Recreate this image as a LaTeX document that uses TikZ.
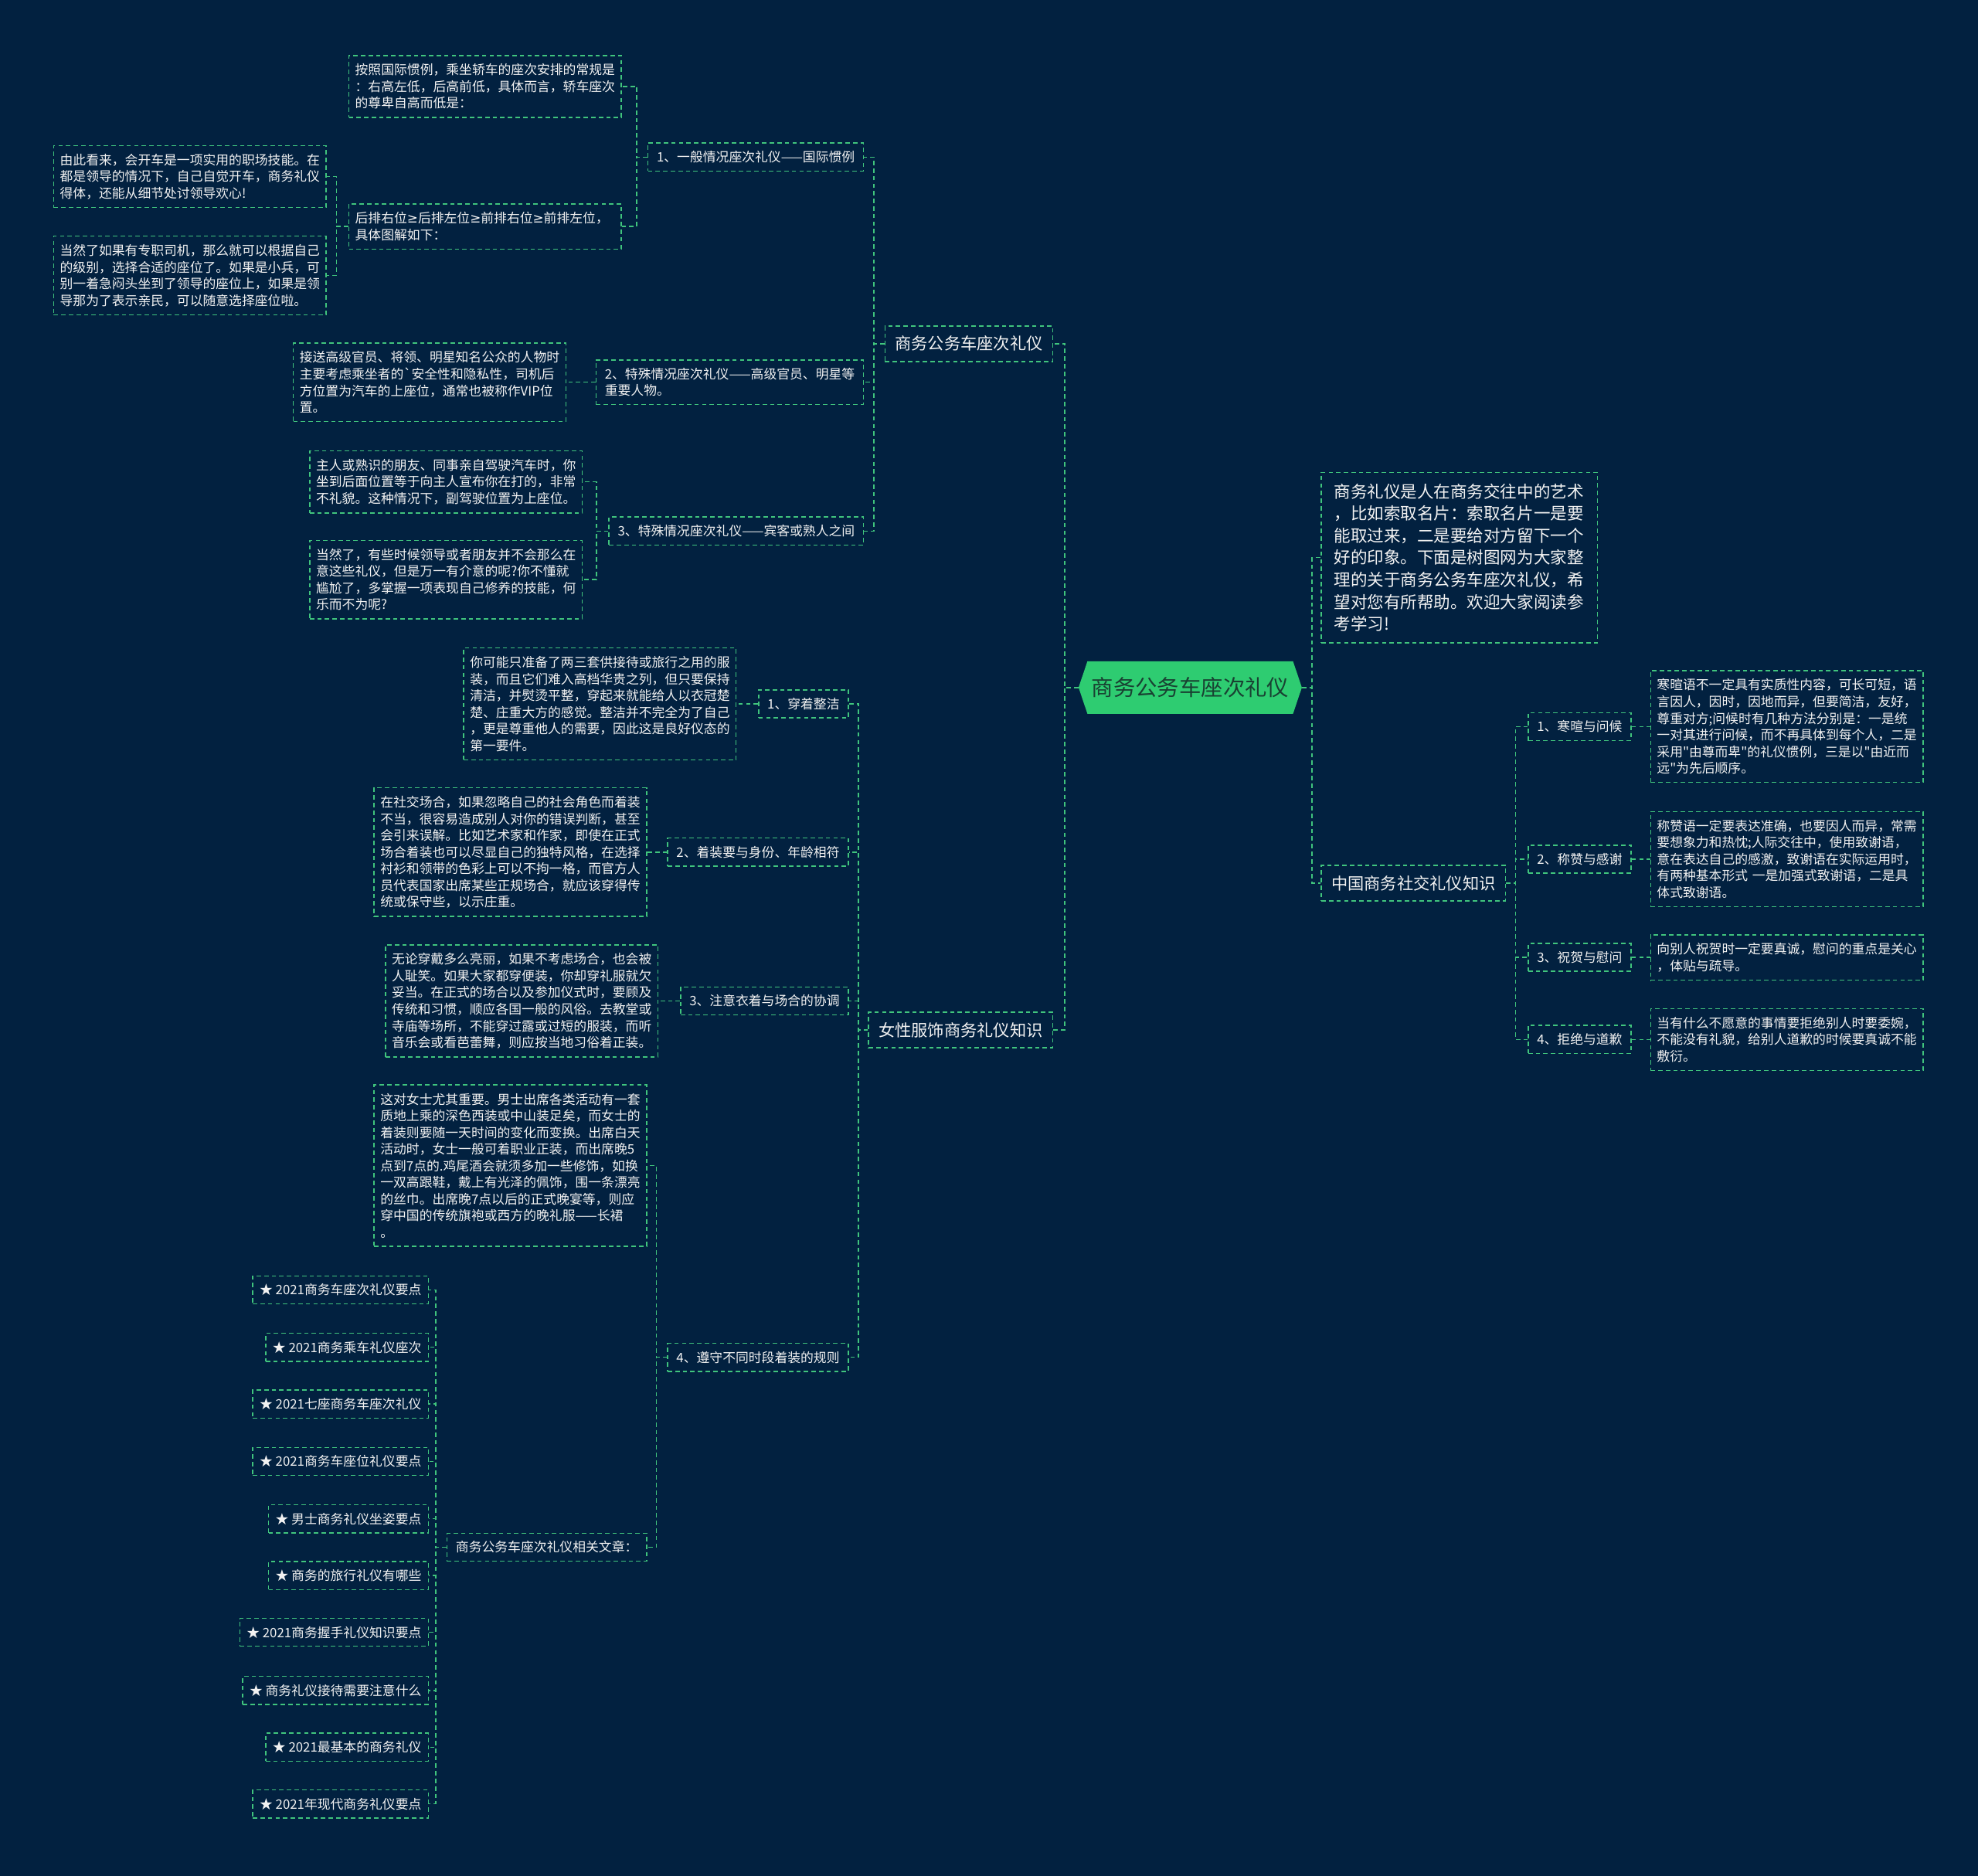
\documentclass[tikz,border=0pt]{standalone}
\usepackage{fontspec}
\setmainfont{Noto Sans CJK SC}
\newfontfamily\dvfont{DejaVu Sans}
\usetikzlibrary{backgrounds,calc}
\definecolor{bgc}{RGB}{2,33,64}
\definecolor{lg}{RGB}{64,196,125}
\definecolor{tw}{RGB}{242,242,242}
\definecolor{rootfill}{RGB}{46,204,113}
\definecolor{roottext}{RGB}{25,65,50}
\newcommand{\dqmark}{\XeTeXglyph\XeTeXcharglyph"22\relax}
\newcommand{\bqmark}{\XeTeXglyph\XeTeXcharglyph"60\relax}
\newcommand{\geqmark}{{\dvfont ≥}}
\tikzset{
  conn/.style={draw=lg, line width=0.9pt, dash pattern=on 3.5pt off 2.5pt},
  dbox/.style={draw=lg, line width=0.9pt, dash pattern=on 3.5pt off 2.5pt, text=tw,
    inner xsep=5pt, inner ysep=6.5pt, font=\fontsize{10.3}{13.2}\selectfont,
    align=left, text width=206pt},
  lab/.style={draw=lg, line width=0.9pt, dash pattern=on 3.5pt off 2.5pt, text=tw,
    inner xsep=7pt, inner ysep=6.3pt, font=\fontsize{10.3}{13.2}\selectfont, align=left},
  starlab/.style={lab, inner xsep=5.5pt},
  big/.style={draw=lg, line width=0.9pt, dash pattern=on 3.5pt off 2.5pt, text=tw,
    inner xsep=8pt, inner ysep=8pt, font=\fontsize{13}{16}\selectfont},
  introbox/.style={draw=lg, line width=0.9pt, dash pattern=on 3.5pt off 2.5pt, text=tw,
    inner xsep=10pt, inner ysep=9pt, font=\fontsize{13.2}{17.5}\selectfont,
    align=left, text width=199pt},
}
\begin{document}
\begin{tikzpicture}[x=1pt,y=-1pt]
\begin{scope}[on background layer]
  \fill[bgc] (0,0) rectangle (1568,1487);
\end{scope}
\useasboundingbox (0,0) rectangle (1568,1487);

% root
\node[text=roottext, font=\fontsize{17.4}{20}\selectfont, inner xsep=10pt, inner ysep=12.5pt] (root) at (943.5,545) {商务公务车座次礼仪};
\begin{scope}[on background layer]
  \fill[rootfill] ($(root.north west)+(7,0)$) -- ($(root.north east)+(-7,0)$) -- (root.east)
    -- ($(root.south east)+(-7,0)$) -- ($(root.south west)+(7,0)$) -- (root.west) -- cycle;
\end{scope}

% right side
\node[introbox, anchor=west] (intro) at (1047,442) {商务礼仪是人在商务交往中的艺术\\，比如索取名片：索取名片一是要\\能取过来，二是要给对方留下一个\\好的印象。下面是树图网为大家整\\理的关于商务公务车座次礼仪，希\\望对您有所帮助。欢迎大家阅读参\\考学习!};
\node[big, anchor=west] (cn) at (1047,700) {中国商务社交礼仪知识};

\node[lab, anchor=west] (r1) at (1211,576) {1、寒暄与问候};
\node[lab, anchor=west] (r2) at (1211,681) {2、称赞与感谢};
\node[lab, anchor=west] (r3) at (1211,759) {3、祝贺与慰问};
\node[lab, anchor=west] (r4) at (1211,824) {4、拒绝与道歉};

\node[dbox, anchor=west] (rd1) at (1308,576) {寒暄语不一定具有实质性内容，可长可短，语\\言因人，因时，因地而异，但要简洁，友好，\\尊重对方;问候时有几种方法分别是：一是统\\一对其进行问候，而不再具体到每个人，二是\\采用\dqmark 由尊而卑\dqmark 的礼仪惯例，三是以\dqmark 由近而\\远\dqmark 为先后顺序。};
\node[dbox, anchor=west] (rd2) at (1308,681) {称赞语一定要表达准确，也要因人而异，常需\\要想象力和热忱;人际交往中，使用致谢语，\\意在表达自己的感激，致谢语在实际运用时，\\有两种基本形式 一是加强式致谢语，二是具\\体式致谢语。};
\node[dbox, anchor=west] (rd3) at (1308,759) {向别人祝贺时一定要真诚，慰问的重点是关心\\，体贴与疏导。};
\node[dbox, anchor=west] (rd4) at (1308,824) {当有什么不愿意的事情要拒绝别人时要委婉，\\不能没有礼貌，给别人道歉的时候要真诚不能\\敷衍。};

% left side level 1
\node[big, anchor=east] (A) at (835,272.5) {商务公务车座次礼仪};
\node[big, anchor=east] (B) at (835,816.5) {女性服饰商务礼仪知识};

% A subtree
\node[lab, anchor=east] (a1) at (685,124.5) {1、一般情况座次礼仪——国际惯例};
\node[lab, anchor=east] (a2) at (685,303) {2、特殊情况座次礼仪——高级官员、明星等\\重要人物。};
\node[lab, anchor=east] (a3) at (685,421) {3、特殊情况座次礼仪——宾客或熟人之间};

\node[dbox, anchor=east] (a1d1) at (493,68.5) {按照国际惯例，乘坐轿车的座次安排的常规是\\：右高左低，后高前低，具体而言，轿车座次\\的尊卑自高而低是：};
\node[dbox, anchor=east] (a1d2) at (493,179.5) {后排右位\geqmark 后排左位\geqmark 前排右位\geqmark 前排左位，\\具体图解如下：};
\node[dbox, anchor=east] (a1d2c1) at (259,140) {由此看来，会开车是一项实用的职场技能。在\\都是领导的情况下，自己自觉开车，商务礼仪\\得体，还能从细节处讨领导欢心!};
\node[dbox, anchor=east] (a1d2c2) at (259,218.5) {当然了如果有专职司机，那么就可以根据自己\\的级别，选择合适的座位了。如果是小兵，可\\别一着急闷头坐到了领导的座位上，如果是领\\导那为了表示亲民，可以随意选择座位啦。};
\node[dbox, anchor=east] (a2d) at (449,303) {接送高级官员、将领、明星知名公众的人物时\\主要考虑乘坐者的\bqmark 安全性和隐私性，司机后\\方位置为汽车的上座位，通常也被称作VIP位\\置。};
\node[dbox, anchor=east] (a3d1) at (462,382) {主人或熟识的朋友、同事亲自驾驶汽车时，你\\坐到后面位置等于向主人宣布你在打的，非常\\不礼貌。这种情况下，副驾驶位置为上座位。};
\node[dbox, anchor=east] (a3d2) at (462,459.5) {当然了，有些时候领导或者朋友并不会那么在\\意这些礼仪，但是万一有介意的呢?你不懂就\\尴尬了，多掌握一项表现自己修养的技能，何\\乐而不为呢?};

% B subtree
\node[lab, anchor=east] (b1) at (673,558) {1、穿着整洁};
\node[lab, anchor=east] (b2) at (673,675.5) {2、着装要与身份、年龄相符};
\node[lab, anchor=east] (b3) at (673,793.5) {3、注意衣着与场合的协调};
\node[lab, anchor=east] (b4) at (673,1076) {4、遵守不同时段着装的规则};

\node[dbox, anchor=east] (b1d) at (584,558) {你可能只准备了两三套供接待或旅行之用的服\\装，而且它们难入高档华贵之列，但只要保持\\清洁，并熨烫平整，穿起来就能给人以衣冠楚\\楚、庄重大方的感觉。整洁并不完全为了自己\\，更是尊重他人的需要，因此这是良好仪态的\\第一要件。};
\node[dbox, anchor=east] (b2d) at (513,675.5) {在社交场合，如果忽略自己的社会角色而着装\\不当，很容易造成别人对你的错误判断，甚至\\会引来误解。比如艺术家和作家，即使在正式\\场合着装也可以尽显自己的独特风格，在选择\\衬衫和领带的色彩上可以不拘一格，而官方人\\员代表国家出席某些正规场合，就应该穿得传\\统或保守些，以示庄重。};
\node[dbox, anchor=east] (b3d) at (522,793.5) {无论穿戴多么亮丽，如果不考虑场合，也会被\\人耻笑。如果大家都穿便装，你却穿礼服就欠\\妥当。在正式的场合以及参加仪式时，要顾及\\传统和习惯，顺应各国一般的风俗。去教堂或\\寺庙等场所，不能穿过露或过短的服装，而听\\音乐会或看芭蕾舞，则应按当地习俗着正装。};
\node[dbox, anchor=east] (b4d1) at (513,924) {这对女士尤其重要。男士出席各类活动有一套\\质地上乘的深色西装或中山装足矣，而女士的\\着装则要随一天时间的变化而变换。出席白天\\活动时，女士一般可着职业正装，而出席晚5\\点到7点的.鸡尾酒会就须多加一些修饰，如换\\一双高跟鞋，戴上有光泽的佩饰，围一条漂亮\\的丝巾。出席晚7点以后的正式晚宴等，则应\\穿中国的传统旗袍或西方的晚礼服——长裙\\。};
\node[lab, anchor=east] (b4d2) at (513,1226.5) {商务公务车座次礼仪相关文章：};

\node[starlab, anchor=east] (s1) at (340,1022.5) {★ 2021商务车座次礼仪要点};
\node[starlab, anchor=east] (s2) at (340,1068) {★ 2021商务乘车礼仪座次};
\node[starlab, anchor=east] (s3) at (340,1113) {★ 2021七座商务车座次礼仪};
\node[starlab, anchor=east] (s4) at (340,1158.5) {★ 2021商务车座位礼仪要点};
\node[starlab, anchor=east] (s5) at (340,1204) {★ 男士商务礼仪坐姿要点};
\node[starlab, anchor=east] (s6) at (340,1249) {★ 商务的旅行礼仪有哪些};
\node[starlab, anchor=east] (s7) at (340,1294) {★ 2021商务握手礼仪知识要点};
\node[starlab, anchor=east] (s8) at (340,1340) {★ 商务礼仪接待需要注意什么};
\node[starlab, anchor=east] (s9) at (340,1385) {★ 2021最基本的商务礼仪};
\node[starlab, anchor=east] (s10) at (340,1430) {★ 2021年现代商务礼仪要点};

% connectors right
\draw[conn] (root.east) -- ++(8,0) |- (intro.west);
\draw[conn] (root.east) -- ++(8,0) |- (cn.west);
\foreach \i in {1,2,3,4}{
  \draw[conn] (cn.east) -- ++(7.5,0) |- (r\i.west);
  \draw[conn] (r\i.east) -- (rd\i.west);
}
% connectors left
\draw[conn] (root.west) -- ++(-11,0) |- (A.east);
\draw[conn] (root.west) -- ++(-11,0) |- (B.east);
\foreach \c in {a1,a2,a3}{\draw[conn] (A.west) -- ++(-8.5,0) |- (\c.east);}
\draw[conn] (a1.west) -- ++(-8.5,0) |- (a1d1.east);
\draw[conn] (a1.west) -- ++(-8.5,0) |- (a1d2.east);
\draw[conn] (a1d2.west) -- ++(-9.5,0) |- (a1d2c1.east);
\draw[conn] (a1d2.west) -- ++(-9.5,0) |- (a1d2c2.east);
\draw[conn] (a2.west) -- (a2d.east);
\draw[conn] (a3.west) -- ++(-9.5,0) |- (a3d1.east);
\draw[conn] (a3.west) -- ++(-9.5,0) |- (a3d2.east);
\foreach \c in {b1,b2,b3,b4}{\draw[conn] (B.west) -- ++(-7.5,0) |- (\c.east);}
\draw[conn] (b1.west) -- (b1d.east);
\draw[conn] (b2.west) -- (b2d.east);
\draw[conn] (b3.west) -- (b3d.east);
\draw[conn] (b4.west) -- ++(-8.5,0) |- (b4d1.east);
\draw[conn] (b4.west) -- ++(-8.5,0) |- (b4d2.east);
\foreach \i in {1,...,10}{\draw[conn] (b4d2.west) -- ++(-8.5,0) |- (s\i.east);}
\end{tikzpicture}
\end{document}
